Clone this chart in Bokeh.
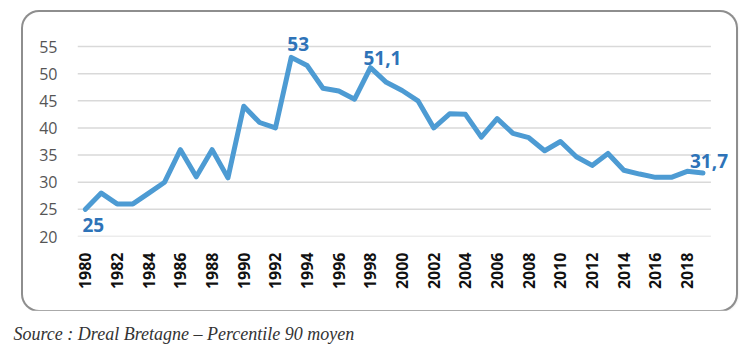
import numpy as np
from bokeh.plotting import figure
from bokeh.layouts import column
from bokeh.models import Range1d, FixedTicker, ColumnDataSource, LabelSet
from bokeh.core.properties import value
from bokeh.embed import file_html
from bokeh.resources import INLINE

years = list(range(1980, 2020))
values = [25, 28, 26, 26, 28, 30, 36, 31, 36, 30.8,
          44, 41, 40, 53, 51.5, 47.3, 46.8, 45.3, 51.1, 48.4,
          46.9, 45, 40, 42.6, 42.5, 38.3, 41.7, 39, 38.2, 35.8,
          37.5, 34.7, 33.1, 35.3, 32.2, 31.5, 30.9, 30.9, 32, 31.7]
x_ticks = list(range(1980, 2019, 2))
y_ticks = [20, 25, 30, 35, 40, 45, 50, 55]
label_years = [1980, 1993, 1998, 2019]
label_texts = ["25", "53", "51,1", "31,7"]
source_text = "Source : Dreal Bretagne \u2013 Percentile 90 moyen"

# styling (pixel offsets of the value labels)
label_dx = [-3, -4, -7, -13]
label_dy = [-9, 6, 3, 5]
label_baseline = ["top", "bottom", "bottom", "bottom"]

x_start, x_end = years[0] - 0.5, years[-1] + 0.5

p = figure(width=713, height=298, output_backend="svg", toolbar_location=None,
           x_range=Range1d(x_start, 2020.8), y_range=Range1d(20, 58.5),
           min_border_left=54, min_border_right=5, min_border_top=15, min_border_bottom=74,
           margin=(12, 0, 0, 23),
           styles={"border-radius": "16px",
                   "box-shadow": "0 0 0 2px #8e8e8e, 1px 1px 3px rgba(0,0,0,0.25)"})
p.outline_line_color = None
p.background_fill_color = None
p.border_fill_color = None

p.xgrid.grid_line_color = None
p.ygrid.grid_line_color = None
# horizontal grid lines limited to the category span
p.segment(x0=[x_start] * len(y_ticks), x1=[x_end] * len(y_ticks), y0=y_ticks, y1=y_ticks,
          line_color="#d9d9d9", line_width=1.5)

p.yaxis.ticker = FixedTicker(ticks=y_ticks)
p.xaxis.ticker = FixedTicker(ticks=x_ticks)
for ax in (p.xaxis, p.yaxis):
    ax.axis_line_color = None
    ax.major_tick_line_color = None
    ax.minor_tick_line_color = None
    ax.major_label_text_font = "Open Sans"
    ax.major_label_text_font_size = "16px"
p.yaxis.major_label_text_color = "#555555"
p.yaxis.major_label_standoff = 14
p.xaxis.major_label_text_color = "#111111"
p.xaxis.major_label_text_font_style = "bold"
p.xaxis.major_label_orientation = np.pi / 2
p.xaxis.major_label_standoff = 10

src = ColumnDataSource(dict(x=years, y=values))
p.line("x", "y", source=src, line_color="#4d9bd3", line_width=5, line_join="round", line_cap="round")

lab_vals = [values[years.index(yr)] for yr in label_years]
lsrc = ColumnDataSource(dict(x=label_years, y=lab_vals, t=label_texts,
                             dx=label_dx, dy=label_dy, bl=label_baseline))
p.add_layout(LabelSet(x="x", y="y", text="t", source=lsrc, x_offset="dx", y_offset="dy",
                      text_baseline="bl", text_align="left", text_font=value("Open Sans"),
                      text_font_size="19px", text_color="#2e73b8", text_font_style="bold"))

s = figure(width=750, height=46, output_backend="svg", toolbar_location=None,
           x_range=Range1d(0, 1), y_range=Range1d(0, 1),
           min_border_left=0, min_border_right=0, min_border_top=33, min_border_bottom=0,
           x_axis_location=None, y_axis_location=None,
           title=source_text, title_location="above")
s.outline_line_color = None
s.xgrid.grid_line_color = None
s.ygrid.grid_line_color = None
s.title.align = "left"
s.title.offset = -41
s.title.standoff = 0
s.title.text_font = "Liberation Serif"
s.title.text_font_style = "italic"
s.title.text_font_size = "18px"
s.title.text_color = "#333333"

layout = column(p, s, spacing=0)
open("out.html", "w").write(file_html(layout, INLINE))
